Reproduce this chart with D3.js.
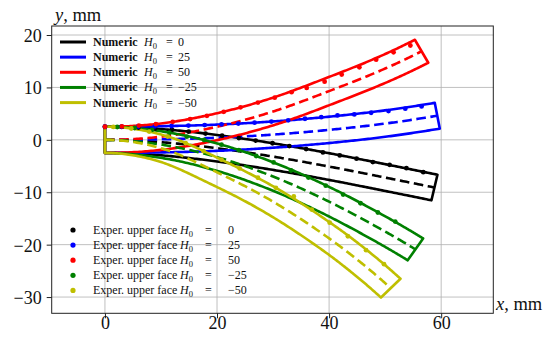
<!DOCTYPE html>
<html>
<head>
<meta charset="utf-8">
<script src="https://cdn.jsdelivr.net/npm/d3@7"></script>
<style>
  html, body { margin: 0; padding: 0; background: #fff; }
  svg { display: block; }
  text { font-family: "Liberation Serif", "Times New Roman", serif; fill: #111; }
</style>
</head>
<body>
<svg id="chart" width="550" height="338"></svg>
<script>
// ---------- data ----------
const xTicks = [0, 20, 40, 60];
const yTicks = [-30, -20, -10, 0, 10, 20];

// field strength H0 of each case, in legend order
const fieldH0 = [0, 25, 50, -25, -50];

// strip thickness, mm
const beamThickness = 5;

// numeric mid-line of the deformed strip, [x, y] in mm
const numericMidH0_0   = [[0, 0], [10, -0.45], [20, -1.6], [30, -3.2], [40, -5.1], [50, -7.2], [58.8, -9.1]];
const numericMidH0_25  = [[0, 0], [10, 0.1], [20, 0.4], [30, 1.0], [40, 1.9], [50, 3.1], [59.3, 4.6]];
const numericMidH0_50  = [[0, 0], [10, 0.6], [20, 2.5], [30, 5.4], [40, 9.3], [50, 13.6], [56.5, 16.9]];
const numericMidH0_m25 = [[0, 0], [10, -0.9], [20, -3.3], [30, -7.0], [40, -11.8], [50, -17.5], [55.4, -20.9]];
const numericMidH0_m50 = [[0, 0], [10, -1.6], [20, -6.2], [30, -11.8], [40, -18.8], [46, -23.7], [51, -28.3]];

// measured upper-face points
const experXH0_0 = [0, 2.99, 5.98, 8.97, 11.96, 14.95, 17.94, 20.9, 23.9, 26.9, 29.9, 32.9, 35.9, 38.9, 41.9, 44.9, 47.8, 50.8, 53.8, 56.8];
const experYH0_0 = [2.5, 2.46, 2.34, 2.15, 1.91, 1.56, 1.19, 0.79, 0.33, -0.15, -0.65, -1.19, -1.76, -2.4, -2.98, -3.6, -4.25, -4.76, -5.4, -6.18];

const experXH0_25 = [0, 2.97, 5.94, 8.91, 11.9, 14.9, 17.8, 20.8, 23.8, 26.7, 29.7, 32.7, 35.7, 38.6, 41.5, 44.5, 47.5, 50.6, 53.6, 56.5];
const experYH0_25 = [2.5, 2.51, 2.54, 2.58, 2.64, 2.72, 2.82, 2.94, 3.1, 3.28, 3.48, 3.72, 4.02, 4.33, 4.66, 4.85, 5.17, 5.48, 5.94, 6.38];

const experXH0_50 = [0, 3.03, 6.06, 9.09, 12.1, 15.2, 18.2, 21.2, 24.2, 27.3, 30.3, 33.3, 36.0, 39.2, 42.25, 45.4, 48.4, 51.5, 54.5];
const experYH0_50 = [2.5, 2.55, 2.72, 3.0, 3.43, 3.96, 4.58, 5.35, 6.2, 7.1, 8.05, 9.1, 9.9, 11.1, 12.45, 13.85, 15.3, 16.7, 18.0];

const experXH0_m25 = [2.2, 5.3, 8.4, 11.5, 14.6, 17.7, 20.8, 23.9, 27.0, 30.1, 33.2, 36.3, 39.4, 42.5, 45.6, 48.7, 51.8];
const experYH0_m25 = [2.45, 2.26, 1.90, 1.35, 0.61, -0.03, -0.93, -1.95, -3.09, -4.32, -5.85, -7.2, -8.75, -10.45, -12.1, -13.87, -15.6];

const experXH0_m50 = [1.5, 4.7, 7.9, 11.2, 14.4, 17.6, 20.8, 24.05, 27.3, 30.5, 33.7, 36.9, 40.1, 43.35, 46.6, 49.8];
const experYH0_m50 = [2.46, 2.16, 1.57, 0.63, -0.62, -2.16, -3.79, -5.45, -7.24, -9.16, -10.8, -13.3, -15.8, -18.4, -21.05, -23.72];

const seriesColors = ["#000000", "#0000ff", "#ff0000", "#008000", "#bfbf00"];

const numericMids = [numericMidH0_0, numericMidH0_25, numericMidH0_50, numericMidH0_m25, numericMidH0_m50];
const experX = [experXH0_0, experXH0_25, experXH0_50, experXH0_m25, experXH0_m50];
const experY = [experYH0_0, experYH0_25, experYH0_50, experYH0_m25, experYH0_m50];

// ---------- layout ----------
const svg = d3.select("#chart");
const frame = { left: 51.7, right: 493.3, top: 26, bottom: 313.3 };

const x = d3.scaleLinear().domain([-9.5, 69.3]).range([frame.left, frame.right]);
const y = d3.scaleLinear().domain([-33.1, 21.72]).range([frame.bottom, frame.top]);

svg.append("defs").append("clipPath").attr("id", "plotClip")
  .append("rect")
  .attr("x", frame.left).attr("y", frame.top)
  .attr("width", frame.right - frame.left).attr("height", frame.bottom - frame.top);

// grid
const grid = svg.append("g").attr("stroke", "#b0b0b0").attr("stroke-width", 0.8);
grid.selectAll("line.gx").data(xTicks).join("line")
  .attr("x1", d => x(d)).attr("x2", d => x(d))
  .attr("y1", frame.top).attr("y2", frame.bottom);
grid.selectAll("line.gy").data(yTicks).join("line")
  .attr("y1", d => y(d)).attr("y2", d => y(d))
  .attr("x1", frame.left).attr("x2", frame.right);

// smooth mid-line through the given points (clamped: horizontal at x = 0)
function midLineSamples(pts, perSeg) {
  const n = pts.length;
  const sec = [];
  for (let i = 0; i < n - 1; i++) sec.push((pts[i + 1][1] - pts[i][1]) / (pts[i + 1][0] - pts[i][0]));
  const m = new Array(n);
  m[0] = 0;
  for (let i = 1; i < n - 1; i++) m[i] = (sec[i - 1] + sec[i]) / 2;
  m[n - 1] = 2 * sec[n - 2] - m[n - 2];
  const out = [];
  for (let i = 0; i < n - 1; i++) {
    const [x0, y0] = pts[i], [x1, y1] = pts[i + 1], h = x1 - x0;
    for (let k = 0; k < perSeg; k++) {
      const t = k / perSeg, t2 = t * t, t3 = t2 * t;
      const yv = (2 * t3 - 3 * t2 + 1) * y0 + (t3 - 2 * t2 + t) * h * m[i]
               + (-2 * t3 + 3 * t2) * y1 + (t3 - t2) * h * m[i + 1];
      const dy = ((6 * t2 - 6 * t) * y0 + (3 * t2 - 4 * t + 1) * h * m[i]
               + (-6 * t2 + 6 * t) * y1 + (3 * t2 - 2 * t) * h * m[i + 1]) / h;
      out.push({ x: x0 + t * h, y: yv, m: dy });
    }
  }
  out.push({ x: pts[n - 1][0], y: pts[n - 1][1], m: m[n - 1] });
  return out;
}

const line = d3.line().x(d => x(d.x)).y(d => y(d.y));

const marks = svg.append("g").attr("clip-path", "url(#plotClip)");
const half = beamThickness / 2;

numericMids.forEach((pts, i) => {
  const mid = midLineSamples(pts, 30);
  const upper = mid.map(p => {
    const a = Math.atan(p.m);
    return { x: p.x - half * Math.sin(a), y: p.y + half * Math.cos(a) };
  });
  const lower = mid.map(p => {
    const a = Math.atan(p.m);
    return { x: p.x + half * Math.sin(a), y: p.y - half * Math.cos(a) };
  });
  const outline = upper.concat(lower.slice().reverse());
  marks.append("path")
    .attr("d", line(outline) + "Z")
    .attr("fill", "none")
    .attr("stroke", seriesColors[i])
    .attr("stroke-width", 2.6)
    .attr("stroke-linejoin", "round");
  marks.append("path")
    .attr("d", line(mid))
    .attr("fill", "none")
    .attr("stroke", seriesColors[i])
    .attr("stroke-width", 2.6)
    .attr("stroke-dasharray", "9.6,4.6");
});

experX.forEach((xs, i) => {
  marks.append("g").selectAll("circle")
    .data(xs.map((v, k) => [v, experY[i][k]]))
    .join("circle")
    .attr("cx", d => x(d[0]))
    .attr("cy", d => y(d[1]))
    .attr("r", 2.4)
    .attr("fill", seriesColors[i]);
});

// frame
svg.append("rect")
  .attr("x", frame.left).attr("y", frame.top)
  .attr("width", frame.right - frame.left).attr("height", frame.bottom - frame.top)
  .attr("fill", "none").attr("stroke", "#222").attr("stroke-width", 1);

// axes
const minus = d => d3.format("d")(d).replace("-", "\u2212");
const xAxis = svg.append("g").attr("transform", `translate(0,${frame.bottom})`)
  .call(d3.axisBottom(x).tickValues(xTicks).tickSize(5).tickPadding(0).tickFormat(minus));
xAxis.select(".domain").remove();
xAxis.selectAll("line").attr("stroke", "#222");
xAxis.selectAll("text").attr("y", 15.7).attr("dy", null)
  .style("font-family", "'Liberation Serif', serif").style("font-size", "18px").attr("fill", "#111");

const yAxis = svg.append("g").attr("transform", `translate(${frame.left},0)`)
  .call(d3.axisLeft(y).tickValues(yTicks).tickSize(5).tickPadding(5).tickFormat(minus));
yAxis.select(".domain").remove();
yAxis.selectAll("line").attr("stroke", "#222");
yAxis.selectAll("text").attr("dy", "0.36em")
  .style("font-family", "'Liberation Serif', serif").style("font-size", "18px").attr("fill", "#111");

// axis titles
const yTitle = svg.append("text").attr("x", 55).attr("y", 20.5).style("font-size", "18.5px");
yTitle.append("tspan").attr("font-style", "italic").text("y");
yTitle.append("tspan").text(", mm");
const xTitle = svg.append("text").attr("x", 496).attr("y", 309.5).style("font-size", "18.5px");
xTitle.append("tspan").attr("font-style", "italic").text("x");
xTitle.append("tspan").text(", mm");

// legend label: prefix word(s), then H0 = value at fixed columns
function h0Label(g, ly, prefix, bold, value, cols) {
  const t = g.append("text").attr("y", ly + 4).style("font-size", "12px");
  t.append("tspan").attr("x", 93).attr("font-weight", bold ? "bold" : "normal").text(prefix);
  t.append("tspan").attr("x", cols.h).attr("font-style", "italic").text("H");
  t.append("tspan").attr("dy", 2.8).style("font-size", "8.5px").text("0");
  t.append("tspan").attr("x", cols.eq).attr("dy", -2.8).text("=");
  t.append("tspan").attr("x", cols.val).text(minus(value));
}

const legendNum = svg.append("g");
fieldH0.forEach((h, i) => {
  const ly = 42 + 15.15 * i;
  legendNum.append("line")
    .attr("x1", 60).attr("x2", 86).attr("y1", ly).attr("y2", ly)
    .attr("stroke", seriesColors[i]).attr("stroke-width", 3);
  h0Label(legendNum, ly, "Numeric", true, h, { h: 144, eq: 166, val: 178 });
});

const legendExp = svg.append("g");
fieldH0.forEach((h, i) => {
  const ly = 230 + 15.1 * i;
  legendExp.append("circle").attr("cx", 73).attr("cy", ly).attr("r", 2.6).attr("fill", seriesColors[i]);
  h0Label(legendExp, ly, "Exper. upper face", false, h, { h: 180, eq: 205, val: 228 });
});
</script>
</body>
</html>
